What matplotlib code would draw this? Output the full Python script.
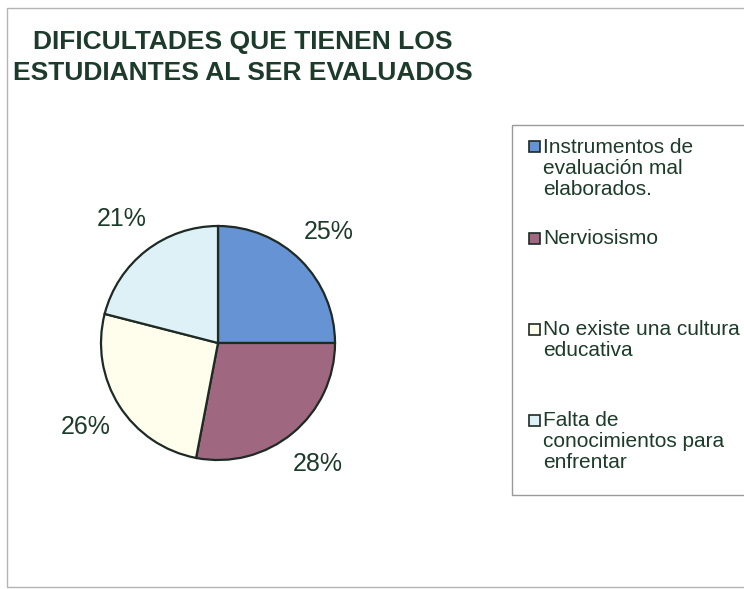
import matplotlib
matplotlib.use("Agg")
import matplotlib.pyplot as plt
from matplotlib.patches import Rectangle

title = "DIFICULTADES QUE TIENEN LOS\nESTUDIANTES AL SER EVALUADOS"
categories = [
    "Instrumentos de\nevaluación mal\nelaborados.",
    "Nerviosismo",
    "No existe una cultura\neducativa",
    "Falta de\nconocimientos para\nenfrentar",
]
values = [25, 28, 26, 21]
colors = ["#6593d3", "#a06880", "#fffdeb", "#def1f7"]

TXT = "#1d3b2a"
EDGE = "#1e2a24"
W, H = 744, 589
fig = plt.figure(figsize=(W / 100, H / 100), dpi=100)
fig.patch.set_facecolor("white")
plt.rcParams["font.family"] = ["Liberation Sans", "DejaVu Sans"]

# outer frame (right edge runs past the image)
fig.patches.append(Rectangle((7 / W, 1 - 587 / H), 745 / W, 579 / H, transform=fig.transFigure,
                             fill=False, edgecolor="#b4b4b4", linewidth=1.0))

# title
fig.text(243 / W, 1 - 30 / H, title, ha="center", va="top", fontsize=19, fontweight="bold",
         color=TXT, linespacing=1.38, multialignment="center")

# pie
cx, cy, half = 218, 343, 160
r_px = 117
ax = fig.add_axes([(cx - half) / W, 1 - (cy + half) / H, 2 * half / W, 2 * half / H])
wedges, texts, autotexts = ax.pie(values, colors=colors, startangle=90, counterclock=False,
                                  autopct=lambda p: f"{p:.0f}%", pctdistance=1.34,
                                  wedgeprops=dict(edgecolor=EDGE, linewidth=1.6),
                                  textprops=dict(fontsize=18, color=TXT))
lim = half / r_px
ax.set_xlim(-lim, lim)
ax.set_ylim(-lim, lim)
ax.set_aspect("equal")
ax.axis("off")

# legend box (right edge runs past the image)
lx0, ly0, lx1, ly1 = 512, 125, 750, 495
fig.patches.append(Rectangle((lx0 / W, 1 - ly1 / H), (lx1 - lx0) / W, (ly1 - ly0) / H,
                             transform=fig.transFigure, fill=False, edgecolor="#9a9a9a", linewidth=1.0))
first_y = 147
step = 91
for i, (lab, col) in enumerate(zip(categories, colors)):
    y = first_y + i * step
    fig.patches.append(Rectangle((529 / W, 1 - (y + 5.5) / H), 11 / W, 11 / H,
                                 transform=fig.transFigure, facecolor=col,
                                 edgecolor=EDGE, linewidth=1.2))
    fig.text(543 / W, 1 - (y - 9) / H, lab, ha="left", va="top", fontsize=15,
             color=TXT, linespacing=1.12)

fig.savefig("out.png", dpi=100, facecolor="white")
